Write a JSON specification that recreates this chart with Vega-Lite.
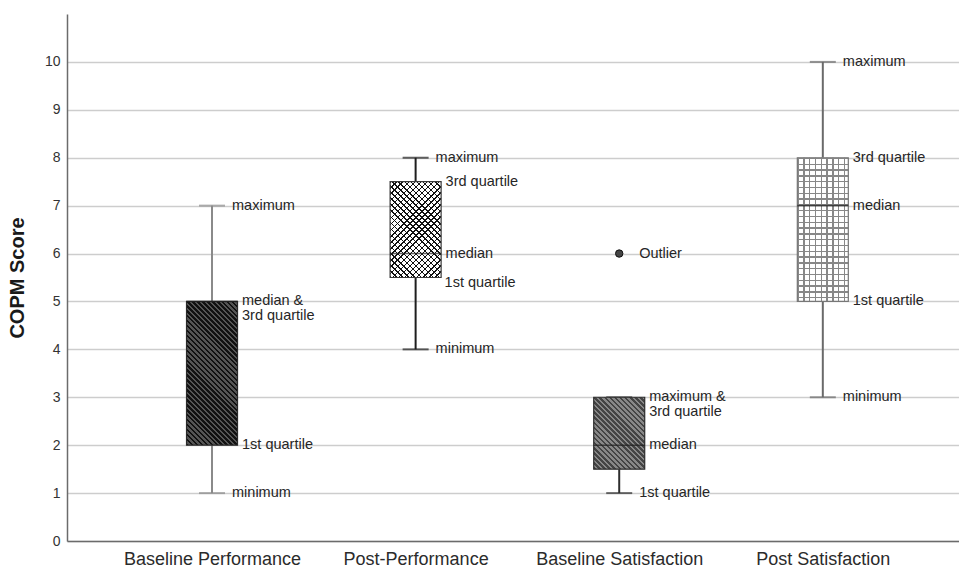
{
"$schema": "https://vega.github.io/schema/vega-lite/v6.json",
"width": 892,
"height": 527,
"autosize": {"type": "none"},
"padding": {"left": 67, "top": 14, "right": 0, "bottom": 26},
"background": "white",
"config": {"view": {"stroke": null}, "font": "Liberation Sans",
"axisY": {"titleFontSize": 20, "titleFontWeight": "bold", "titleColor": "#1a1a1a", "titleFont": "Liberation Sans", "titlePadding": 17, "ticks": false, "tickSize": 0, "labelPadding": 7, "labelFontSize": 14, "labelColor": "#333333", "grid": true, "gridColor": "#cdcdcd", "gridWidth": 1.6, "domainColor": "#6b6b6b", "domainWidth": 1.5}},
"datasets": {
"stats": [
{"cat": "Baseline Performance", "min": 1, "q1": 2, "median": 5, "q3": 5, "max": 7},
{"cat": "Post-Performance", "min": 4, "q1": 5.5, "median": 6, "q3": 7.5, "max": 8},
{"cat": "Baseline Satisfaction", "min": 1, "q1": 1.5, "median": 2, "q3": 3, "max": 3},
{"cat": "Post Satisfaction", "min": 3, "q1": 5, "median": 7, "q3": 8, "max": 10}
],
"outliers": [
{"cat": "Baseline Satisfaction", "value": 6}
],
"notes": [
{"cat": "Baseline Performance", "value": 7, "label": "maximum", "kind": "end"},
{"cat": "Baseline Performance", "value": 5, "label": "median &\n3rd quartile", "kind": "box"},
{"cat": "Baseline Performance", "value": 2, "label": "1st quartile", "kind": "box"},
{"cat": "Baseline Performance", "value": 1, "label": "minimum", "kind": "end"},
{"cat": "Post-Performance", "value": 8, "label": "maximum", "kind": "end"},
{"cat": "Post-Performance", "value": 7.5, "label": "3rd quartile", "kind": "box"},
{"cat": "Post-Performance", "value": 6, "label": "median", "kind": "box"},
{"cat": "Post-Performance", "value": 5.5, "label": "1st quartile", "kind": "below"},
{"cat": "Post-Performance", "value": 4, "label": "minimum", "kind": "end"},
{"cat": "Baseline Satisfaction", "value": 6, "label": "Outlier", "kind": "end"},
{"cat": "Baseline Satisfaction", "value": 3, "label": "maximum &\n3rd quartile", "kind": "box"},
{"cat": "Baseline Satisfaction", "value": 2, "label": "median", "kind": "box"},
{"cat": "Baseline Satisfaction", "value": 1, "label": "1st quartile", "kind": "end"},
{"cat": "Post Satisfaction", "value": 10, "label": "maximum", "kind": "end"},
{"cat": "Post Satisfaction", "value": 8, "label": "3rd quartile", "kind": "box"},
{"cat": "Post Satisfaction", "value": 7, "label": "median", "kind": "box"},
{"cat": "Post Satisfaction", "value": 5, "label": "1st quartile", "kind": "box"},
{"cat": "Post Satisfaction", "value": 3, "label": "minimum", "kind": "end"}
]
},
"data": {"name": "stats"},
"encoding": {
"x": {
"field": "cat", "type": "nominal", "sort": null,
"scale": {"type": "point", "domain": ["Baseline Performance", "Post-Performance", "Baseline Satisfaction", "Post Satisfaction"], "padding": 0.6906, "align": 0.5157},
"axis": {"title": null, "ticks": false, "tickSize": 0, "labelPadding": 9, "labelFontSize": 18, "labelFont": "Liberation Sans", "labelColor": "#2b2b2b", "labelAngle": 0, "domainColor": "#6b6b6b", "domainWidth": 1.5, "grid": false}
}
},
"layer": [
{
"mark": {"type": "rule", "strokeWidth": 2},
"encoding": {
"y": {"field": "min", "type": "quantitative", "title": "COPM Score", "scale": {"domain": [0, 11], "nice": false},
"axis": {"values": [0, 1, 2, 3, 4, 5, 6, 7, 8, 9, 10]}},
"y2": {"field": "q1"},
"color": {"field": "cat", "type": "nominal", "scale": {"domain": ["Baseline Performance", "Post-Performance", "Baseline Satisfaction", "Post Satisfaction"], "range": ["#8a8a8a", "#1e1e1e", "#2e2e2e", "#6a6a6a"]}, "legend": null}
}
},
{
"mark": {"type": "rule", "strokeWidth": 2},
"encoding": {
"y": {"field": "q3", "type": "quantitative", "title": "COPM Score"},
"y2": {"field": "max"},
"color": {"field": "cat", "type": "nominal", "legend": null}
}
},
{
"mark": {"type": "tick", "size": 26, "thickness": 2},
"encoding": {
"y": {"field": "min", "type": "quantitative", "title": "COPM Score"},
"color": {"field": "cat", "type": "nominal", "legend": null}
}
},
{
"mark": {"type": "tick", "size": 26, "thickness": 2},
"encoding": {
"y": {"field": "max", "type": "quantitative", "title": "COPM Score"},
"color": {"field": "cat", "type": "nominal", "legend": null}
}
},
{
"transform": [{"filter": "datum.cat === 'Baseline Performance'"}],
"mark": {"type": "bar", "size": 51, "stroke": "#2a2a2a", "strokeWidth": 1.2,
"fill": {"gradient": "linear", "x1": 0, "y1": 1, "x2": 0.4341, "y2": -0.2234, "stops": [
{"offset":0,"color":"#111"},{"offset":0.0125,"color":"#111"},{"offset":0.0125,"color":"#555"},{"offset":0.025,"color":"#555"},
{"offset":0.025,"color":"#111"},{"offset":0.0375,"color":"#111"},{"offset":0.0375,"color":"#555"},{"offset":0.05,"color":"#555"},
{"offset":0.05,"color":"#111"},{"offset":0.0625,"color":"#111"},{"offset":0.0625,"color":"#555"},{"offset":0.075,"color":"#555"},
{"offset":0.075,"color":"#111"},{"offset":0.0875,"color":"#111"},{"offset":0.0875,"color":"#555"},{"offset":0.1,"color":"#555"},
{"offset":0.1,"color":"#111"},{"offset":0.1125,"color":"#111"},{"offset":0.1125,"color":"#555"},{"offset":0.125,"color":"#555"},
{"offset":0.125,"color":"#111"},{"offset":0.1375,"color":"#111"},{"offset":0.1375,"color":"#555"},{"offset":0.15,"color":"#555"},
{"offset":0.15,"color":"#111"},{"offset":0.1625,"color":"#111"},{"offset":0.1625,"color":"#555"},{"offset":0.175,"color":"#555"},
{"offset":0.175,"color":"#111"},{"offset":0.1875,"color":"#111"},{"offset":0.1875,"color":"#555"},{"offset":0.2,"color":"#555"},
{"offset":0.2,"color":"#111"},{"offset":0.2125,"color":"#111"},{"offset":0.2125,"color":"#555"},{"offset":0.225,"color":"#555"},
{"offset":0.225,"color":"#111"},{"offset":0.2375,"color":"#111"},{"offset":0.2375,"color":"#555"},{"offset":0.25,"color":"#555"},
{"offset":0.25,"color":"#111"},{"offset":0.2625,"color":"#111"},{"offset":0.2625,"color":"#555"},{"offset":0.275,"color":"#555"},
{"offset":0.275,"color":"#111"},{"offset":0.2875,"color":"#111"},{"offset":0.2875,"color":"#555"},{"offset":0.3,"color":"#555"},
{"offset":0.3,"color":"#111"},{"offset":0.3125,"color":"#111"},{"offset":0.3125,"color":"#555"},{"offset":0.325,"color":"#555"},
{"offset":0.325,"color":"#111"},{"offset":0.3375,"color":"#111"},{"offset":0.3375,"color":"#555"},{"offset":0.35,"color":"#555"},
{"offset":0.35,"color":"#111"},{"offset":0.3625,"color":"#111"},{"offset":0.3625,"color":"#555"},{"offset":0.375,"color":"#555"},
{"offset":0.375,"color":"#111"},{"offset":0.3875,"color":"#111"},{"offset":0.3875,"color":"#555"},{"offset":0.4,"color":"#555"},
{"offset":0.4,"color":"#111"},{"offset":0.4125,"color":"#111"},{"offset":0.4125,"color":"#555"},{"offset":0.425,"color":"#555"},
{"offset":0.425,"color":"#111"},{"offset":0.4375,"color":"#111"},{"offset":0.4375,"color":"#555"},{"offset":0.45,"color":"#555"},
{"offset":0.45,"color":"#111"},{"offset":0.4625,"color":"#111"},{"offset":0.4625,"color":"#555"},{"offset":0.475,"color":"#555"},
{"offset":0.475,"color":"#111"},{"offset":0.4875,"color":"#111"},{"offset":0.4875,"color":"#555"},{"offset":0.5,"color":"#555"},
{"offset":0.5,"color":"#111"},{"offset":0.5125,"color":"#111"},{"offset":0.5125,"color":"#555"},{"offset":0.525,"color":"#555"},
{"offset":0.525,"color":"#111"},{"offset":0.5375,"color":"#111"},{"offset":0.5375,"color":"#555"},{"offset":0.55,"color":"#555"},
{"offset":0.55,"color":"#111"},{"offset":0.5625,"color":"#111"},{"offset":0.5625,"color":"#555"},{"offset":0.575,"color":"#555"},
{"offset":0.575,"color":"#111"},{"offset":0.5875,"color":"#111"},{"offset":0.5875,"color":"#555"},{"offset":0.6,"color":"#555"},
{"offset":0.6,"color":"#111"},{"offset":0.6125,"color":"#111"},{"offset":0.6125,"color":"#555"},{"offset":0.625,"color":"#555"},
{"offset":0.625,"color":"#111"},{"offset":0.6375,"color":"#111"},{"offset":0.6375,"color":"#555"},{"offset":0.65,"color":"#555"},
{"offset":0.65,"color":"#111"},{"offset":0.6625,"color":"#111"},{"offset":0.6625,"color":"#555"},{"offset":0.675,"color":"#555"},
{"offset":0.675,"color":"#111"},{"offset":0.6875,"color":"#111"},{"offset":0.6875,"color":"#555"},{"offset":0.7,"color":"#555"},
{"offset":0.7,"color":"#111"},{"offset":0.7125,"color":"#111"},{"offset":0.7125,"color":"#555"},{"offset":0.725,"color":"#555"},
{"offset":0.725,"color":"#111"},{"offset":0.7375,"color":"#111"},{"offset":0.7375,"color":"#555"},{"offset":0.75,"color":"#555"},
{"offset":0.75,"color":"#111"},{"offset":0.7625,"color":"#111"},{"offset":0.7625,"color":"#555"},{"offset":0.775,"color":"#555"},
{"offset":0.775,"color":"#111"},{"offset":0.7875,"color":"#111"},{"offset":0.7875,"color":"#555"},{"offset":0.8,"color":"#555"},
{"offset":0.8,"color":"#111"},{"offset":0.8125,"color":"#111"},{"offset":0.8125,"color":"#555"},{"offset":0.825,"color":"#555"},
{"offset":0.825,"color":"#111"},{"offset":0.8375,"color":"#111"},{"offset":0.8375,"color":"#555"},{"offset":0.85,"color":"#555"},
{"offset":0.85,"color":"#111"},{"offset":0.8625,"color":"#111"},{"offset":0.8625,"color":"#555"},{"offset":0.875,"color":"#555"},
{"offset":0.875,"color":"#111"},{"offset":0.8875,"color":"#111"},{"offset":0.8875,"color":"#555"},{"offset":0.9,"color":"#555"},
{"offset":0.9,"color":"#111"},{"offset":0.9125,"color":"#111"},{"offset":0.9125,"color":"#555"},{"offset":0.925,"color":"#555"},
{"offset":0.925,"color":"#111"},{"offset":0.9375,"color":"#111"},{"offset":0.9375,"color":"#555"},{"offset":0.95,"color":"#555"},
{"offset":0.95,"color":"#111"},{"offset":0.9625,"color":"#111"},{"offset":0.9625,"color":"#555"},{"offset":0.975,"color":"#555"},
{"offset":0.975,"color":"#111"},{"offset":0.9875,"color":"#111"},{"offset":0.9875,"color":"#555"},{"offset":1,"color":"#555"}
]}},
"encoding": {
"y": {"field": "q1", "type": "quantitative", "title": "COPM Score"},
"y2": {"field": "q3"}
}
},
{
"transform": [{"filter": "datum.cat === 'Baseline Satisfaction'"}],
"mark": {"type": "bar", "size": 51, "stroke": "#2e2e2e", "strokeWidth": 1.2,
"fill": {"gradient": "linear", "x1": 0, "y1": 1, "x2": 0.836, "y2": -0.1779, "stops": [
{"offset":0,"color":"#444"},{"offset":0.02,"color":"#444"},{"offset":0.02,"color":"#888"},{"offset":0.04,"color":"#888"},
{"offset":0.04,"color":"#444"},{"offset":0.06,"color":"#444"},{"offset":0.06,"color":"#888"},{"offset":0.08,"color":"#888"},
{"offset":0.08,"color":"#444"},{"offset":0.1,"color":"#444"},{"offset":0.1,"color":"#888"},{"offset":0.12,"color":"#888"},
{"offset":0.12,"color":"#444"},{"offset":0.14,"color":"#444"},{"offset":0.14,"color":"#888"},{"offset":0.16,"color":"#888"},
{"offset":0.16,"color":"#444"},{"offset":0.18,"color":"#444"},{"offset":0.18,"color":"#888"},{"offset":0.2,"color":"#888"},
{"offset":0.2,"color":"#444"},{"offset":0.22,"color":"#444"},{"offset":0.22,"color":"#888"},{"offset":0.24,"color":"#888"},
{"offset":0.24,"color":"#444"},{"offset":0.26,"color":"#444"},{"offset":0.26,"color":"#888"},{"offset":0.28,"color":"#888"},
{"offset":0.28,"color":"#444"},{"offset":0.3,"color":"#444"},{"offset":0.3,"color":"#888"},{"offset":0.32,"color":"#888"},
{"offset":0.32,"color":"#444"},{"offset":0.34,"color":"#444"},{"offset":0.34,"color":"#888"},{"offset":0.36,"color":"#888"},
{"offset":0.36,"color":"#444"},{"offset":0.38,"color":"#444"},{"offset":0.38,"color":"#888"},{"offset":0.4,"color":"#888"},
{"offset":0.4,"color":"#444"},{"offset":0.42,"color":"#444"},{"offset":0.42,"color":"#888"},{"offset":0.44,"color":"#888"},
{"offset":0.44,"color":"#444"},{"offset":0.46,"color":"#444"},{"offset":0.46,"color":"#888"},{"offset":0.48,"color":"#888"},
{"offset":0.48,"color":"#444"},{"offset":0.5,"color":"#444"},{"offset":0.5,"color":"#888"},{"offset":0.52,"color":"#888"},
{"offset":0.52,"color":"#444"},{"offset":0.54,"color":"#444"},{"offset":0.54,"color":"#888"},{"offset":0.56,"color":"#888"},
{"offset":0.56,"color":"#444"},{"offset":0.58,"color":"#444"},{"offset":0.58,"color":"#888"},{"offset":0.6,"color":"#888"},
{"offset":0.6,"color":"#444"},{"offset":0.62,"color":"#444"},{"offset":0.62,"color":"#888"},{"offset":0.64,"color":"#888"},
{"offset":0.64,"color":"#444"},{"offset":0.66,"color":"#444"},{"offset":0.66,"color":"#888"},{"offset":0.68,"color":"#888"},
{"offset":0.68,"color":"#444"},{"offset":0.7,"color":"#444"},{"offset":0.7,"color":"#888"},{"offset":0.72,"color":"#888"},
{"offset":0.72,"color":"#444"},{"offset":0.74,"color":"#444"},{"offset":0.74,"color":"#888"},{"offset":0.76,"color":"#888"},
{"offset":0.76,"color":"#444"},{"offset":0.78,"color":"#444"},{"offset":0.78,"color":"#888"},{"offset":0.8,"color":"#888"},
{"offset":0.8,"color":"#444"},{"offset":0.82,"color":"#444"},{"offset":0.82,"color":"#888"},{"offset":0.84,"color":"#888"},
{"offset":0.84,"color":"#444"},{"offset":0.86,"color":"#444"},{"offset":0.86,"color":"#888"},{"offset":0.88,"color":"#888"},
{"offset":0.88,"color":"#444"},{"offset":0.9,"color":"#444"},{"offset":0.9,"color":"#888"},{"offset":0.92,"color":"#888"},
{"offset":0.92,"color":"#444"},{"offset":0.94,"color":"#444"},{"offset":0.94,"color":"#888"},{"offset":0.96,"color":"#888"},
{"offset":0.96,"color":"#444"},{"offset":0.98,"color":"#444"},{"offset":0.98,"color":"#888"},{"offset":1,"color":"#888"}
]}},
"encoding": {
"y": {"field": "q1", "type": "quantitative", "title": "COPM Score"},
"y2": {"field": "q3"}
}
},
{
"transform": [{"filter": "datum.cat === 'Post-Performance'"}],
"mark": {"type": "bar", "size": 51, "strokeWidth": 0,
"fill": {"gradient": "linear", "x1": 0, "y1": 1, "x2": 0.6581, "y2": -0.2364, "stops": [
{"offset":0,"color":"#111"},{"offset":0.01,"color":"#111"},{"offset":0.01,"color":"#fff"},{"offset":0.04,"color":"#fff"},
{"offset":0.04,"color":"#111"},{"offset":0.05,"color":"#111"},{"offset":0.05,"color":"#fff"},{"offset":0.08,"color":"#fff"},
{"offset":0.08,"color":"#111"},{"offset":0.09,"color":"#111"},{"offset":0.09,"color":"#fff"},{"offset":0.12,"color":"#fff"},
{"offset":0.12,"color":"#111"},{"offset":0.13,"color":"#111"},{"offset":0.13,"color":"#fff"},{"offset":0.16,"color":"#fff"},
{"offset":0.16,"color":"#111"},{"offset":0.17,"color":"#111"},{"offset":0.17,"color":"#fff"},{"offset":0.2,"color":"#fff"},
{"offset":0.2,"color":"#111"},{"offset":0.21,"color":"#111"},{"offset":0.21,"color":"#fff"},{"offset":0.24,"color":"#fff"},
{"offset":0.24,"color":"#111"},{"offset":0.25,"color":"#111"},{"offset":0.25,"color":"#fff"},{"offset":0.28,"color":"#fff"},
{"offset":0.28,"color":"#111"},{"offset":0.29,"color":"#111"},{"offset":0.29,"color":"#fff"},{"offset":0.32,"color":"#fff"},
{"offset":0.32,"color":"#111"},{"offset":0.33,"color":"#111"},{"offset":0.33,"color":"#fff"},{"offset":0.36,"color":"#fff"},
{"offset":0.36,"color":"#111"},{"offset":0.37,"color":"#111"},{"offset":0.37,"color":"#fff"},{"offset":0.4,"color":"#fff"},
{"offset":0.4,"color":"#111"},{"offset":0.41,"color":"#111"},{"offset":0.41,"color":"#fff"},{"offset":0.44,"color":"#fff"},
{"offset":0.44,"color":"#111"},{"offset":0.45,"color":"#111"},{"offset":0.45,"color":"#fff"},{"offset":0.48,"color":"#fff"},
{"offset":0.48,"color":"#111"},{"offset":0.49,"color":"#111"},{"offset":0.49,"color":"#fff"},{"offset":0.52,"color":"#fff"},
{"offset":0.52,"color":"#111"},{"offset":0.53,"color":"#111"},{"offset":0.53,"color":"#fff"},{"offset":0.56,"color":"#fff"},
{"offset":0.56,"color":"#111"},{"offset":0.57,"color":"#111"},{"offset":0.57,"color":"#fff"},{"offset":0.6,"color":"#fff"},
{"offset":0.6,"color":"#111"},{"offset":0.61,"color":"#111"},{"offset":0.61,"color":"#fff"},{"offset":0.64,"color":"#fff"},
{"offset":0.64,"color":"#111"},{"offset":0.65,"color":"#111"},{"offset":0.65,"color":"#fff"},{"offset":0.68,"color":"#fff"},
{"offset":0.68,"color":"#111"},{"offset":0.69,"color":"#111"},{"offset":0.69,"color":"#fff"},{"offset":0.72,"color":"#fff"},
{"offset":0.72,"color":"#111"},{"offset":0.73,"color":"#111"},{"offset":0.73,"color":"#fff"},{"offset":0.76,"color":"#fff"},
{"offset":0.76,"color":"#111"},{"offset":0.77,"color":"#111"},{"offset":0.77,"color":"#fff"},{"offset":0.8,"color":"#fff"},
{"offset":0.8,"color":"#111"},{"offset":0.81,"color":"#111"},{"offset":0.81,"color":"#fff"},{"offset":0.84,"color":"#fff"},
{"offset":0.84,"color":"#111"},{"offset":0.85,"color":"#111"},{"offset":0.85,"color":"#fff"},{"offset":0.88,"color":"#fff"},
{"offset":0.88,"color":"#111"},{"offset":0.89,"color":"#111"},{"offset":0.89,"color":"#fff"},{"offset":0.92,"color":"#fff"},
{"offset":0.92,"color":"#111"},{"offset":0.93,"color":"#111"},{"offset":0.93,"color":"#fff"},{"offset":0.96,"color":"#fff"},
{"offset":0.96,"color":"#111"},{"offset":0.97,"color":"#111"},{"offset":0.97,"color":"#fff"},{"offset":1,"color":"#fff"}
]}},
"encoding": {
"y": {"field": "q1", "type": "quantitative", "title": "COPM Score"},
"y2": {"field": "q3"}
}
},
{
"transform": [{"filter": "datum.cat === 'Post-Performance'"}],
"mark": {"type": "bar", "size": 51, "stroke": "#3a3a3a", "strokeWidth": 1.2,
"fill": {"gradient": "linear", "x1": 0, "y1": 0, "x2": 0.6581, "y2": 1.2364, "stops": [
{"offset":0,"color":"#111"},{"offset":0.01,"color":"#111"},{"offset":0.01,"color":"rgba(0,0,0,0)"},{"offset":0.04,"color":"rgba(0,0,0,0)"},
{"offset":0.04,"color":"#111"},{"offset":0.05,"color":"#111"},{"offset":0.05,"color":"rgba(0,0,0,0)"},{"offset":0.08,"color":"rgba(0,0,0,0)"},
{"offset":0.08,"color":"#111"},{"offset":0.09,"color":"#111"},{"offset":0.09,"color":"rgba(0,0,0,0)"},{"offset":0.12,"color":"rgba(0,0,0,0)"},
{"offset":0.12,"color":"#111"},{"offset":0.13,"color":"#111"},{"offset":0.13,"color":"rgba(0,0,0,0)"},{"offset":0.16,"color":"rgba(0,0,0,0)"},
{"offset":0.16,"color":"#111"},{"offset":0.17,"color":"#111"},{"offset":0.17,"color":"rgba(0,0,0,0)"},{"offset":0.2,"color":"rgba(0,0,0,0)"},
{"offset":0.2,"color":"#111"},{"offset":0.21,"color":"#111"},{"offset":0.21,"color":"rgba(0,0,0,0)"},{"offset":0.24,"color":"rgba(0,0,0,0)"},
{"offset":0.24,"color":"#111"},{"offset":0.25,"color":"#111"},{"offset":0.25,"color":"rgba(0,0,0,0)"},{"offset":0.28,"color":"rgba(0,0,0,0)"},
{"offset":0.28,"color":"#111"},{"offset":0.29,"color":"#111"},{"offset":0.29,"color":"rgba(0,0,0,0)"},{"offset":0.32,"color":"rgba(0,0,0,0)"},
{"offset":0.32,"color":"#111"},{"offset":0.33,"color":"#111"},{"offset":0.33,"color":"rgba(0,0,0,0)"},{"offset":0.36,"color":"rgba(0,0,0,0)"},
{"offset":0.36,"color":"#111"},{"offset":0.37,"color":"#111"},{"offset":0.37,"color":"rgba(0,0,0,0)"},{"offset":0.4,"color":"rgba(0,0,0,0)"},
{"offset":0.4,"color":"#111"},{"offset":0.41,"color":"#111"},{"offset":0.41,"color":"rgba(0,0,0,0)"},{"offset":0.44,"color":"rgba(0,0,0,0)"},
{"offset":0.44,"color":"#111"},{"offset":0.45,"color":"#111"},{"offset":0.45,"color":"rgba(0,0,0,0)"},{"offset":0.48,"color":"rgba(0,0,0,0)"},
{"offset":0.48,"color":"#111"},{"offset":0.49,"color":"#111"},{"offset":0.49,"color":"rgba(0,0,0,0)"},{"offset":0.52,"color":"rgba(0,0,0,0)"},
{"offset":0.52,"color":"#111"},{"offset":0.53,"color":"#111"},{"offset":0.53,"color":"rgba(0,0,0,0)"},{"offset":0.56,"color":"rgba(0,0,0,0)"},
{"offset":0.56,"color":"#111"},{"offset":0.57,"color":"#111"},{"offset":0.57,"color":"rgba(0,0,0,0)"},{"offset":0.6,"color":"rgba(0,0,0,0)"},
{"offset":0.6,"color":"#111"},{"offset":0.61,"color":"#111"},{"offset":0.61,"color":"rgba(0,0,0,0)"},{"offset":0.64,"color":"rgba(0,0,0,0)"},
{"offset":0.64,"color":"#111"},{"offset":0.65,"color":"#111"},{"offset":0.65,"color":"rgba(0,0,0,0)"},{"offset":0.68,"color":"rgba(0,0,0,0)"},
{"offset":0.68,"color":"#111"},{"offset":0.69,"color":"#111"},{"offset":0.69,"color":"rgba(0,0,0,0)"},{"offset":0.72,"color":"rgba(0,0,0,0)"},
{"offset":0.72,"color":"#111"},{"offset":0.73,"color":"#111"},{"offset":0.73,"color":"rgba(0,0,0,0)"},{"offset":0.76,"color":"rgba(0,0,0,0)"},
{"offset":0.76,"color":"#111"},{"offset":0.77,"color":"#111"},{"offset":0.77,"color":"rgba(0,0,0,0)"},{"offset":0.8,"color":"rgba(0,0,0,0)"},
{"offset":0.8,"color":"#111"},{"offset":0.81,"color":"#111"},{"offset":0.81,"color":"rgba(0,0,0,0)"},{"offset":0.84,"color":"rgba(0,0,0,0)"},
{"offset":0.84,"color":"#111"},{"offset":0.85,"color":"#111"},{"offset":0.85,"color":"rgba(0,0,0,0)"},{"offset":0.88,"color":"rgba(0,0,0,0)"},
{"offset":0.88,"color":"#111"},{"offset":0.89,"color":"#111"},{"offset":0.89,"color":"rgba(0,0,0,0)"},{"offset":0.92,"color":"rgba(0,0,0,0)"},
{"offset":0.92,"color":"#111"},{"offset":0.93,"color":"#111"},{"offset":0.93,"color":"rgba(0,0,0,0)"},{"offset":0.96,"color":"rgba(0,0,0,0)"},
{"offset":0.96,"color":"#111"},{"offset":0.97,"color":"#111"},{"offset":0.97,"color":"rgba(0,0,0,0)"},{"offset":1,"color":"rgba(0,0,0,0)"}
]}},
"encoding": {
"y": {"field": "q1", "type": "quantitative", "title": "COPM Score"},
"y2": {"field": "q3"}
}
},
{
"transform": [{"filter": "datum.cat === 'Post Satisfaction'"}],
"mark": {"type": "bar", "size": 51, "strokeWidth": 0,
"fill": {"gradient": "linear", "x1": 0, "y1": 0, "x2": 0, "y2": 1.0088, "stops": [
{"offset":0,"color":"#888"},{"offset":0.01,"color":"#888"},{"offset":0.01,"color":"#fff"},{"offset":0.04,"color":"#fff"},
{"offset":0.04,"color":"#888"},{"offset":0.05,"color":"#888"},{"offset":0.05,"color":"#fff"},{"offset":0.08,"color":"#fff"},
{"offset":0.08,"color":"#888"},{"offset":0.09,"color":"#888"},{"offset":0.09,"color":"#fff"},{"offset":0.12,"color":"#fff"},
{"offset":0.12,"color":"#888"},{"offset":0.13,"color":"#888"},{"offset":0.13,"color":"#fff"},{"offset":0.16,"color":"#fff"},
{"offset":0.16,"color":"#888"},{"offset":0.17,"color":"#888"},{"offset":0.17,"color":"#fff"},{"offset":0.2,"color":"#fff"},
{"offset":0.2,"color":"#888"},{"offset":0.21,"color":"#888"},{"offset":0.21,"color":"#fff"},{"offset":0.24,"color":"#fff"},
{"offset":0.24,"color":"#888"},{"offset":0.25,"color":"#888"},{"offset":0.25,"color":"#fff"},{"offset":0.28,"color":"#fff"},
{"offset":0.28,"color":"#888"},{"offset":0.29,"color":"#888"},{"offset":0.29,"color":"#fff"},{"offset":0.32,"color":"#fff"},
{"offset":0.32,"color":"#888"},{"offset":0.33,"color":"#888"},{"offset":0.33,"color":"#fff"},{"offset":0.36,"color":"#fff"},
{"offset":0.36,"color":"#888"},{"offset":0.37,"color":"#888"},{"offset":0.37,"color":"#fff"},{"offset":0.4,"color":"#fff"},
{"offset":0.4,"color":"#888"},{"offset":0.41,"color":"#888"},{"offset":0.41,"color":"#fff"},{"offset":0.44,"color":"#fff"},
{"offset":0.44,"color":"#888"},{"offset":0.45,"color":"#888"},{"offset":0.45,"color":"#fff"},{"offset":0.48,"color":"#fff"},
{"offset":0.48,"color":"#888"},{"offset":0.49,"color":"#888"},{"offset":0.49,"color":"#fff"},{"offset":0.52,"color":"#fff"},
{"offset":0.52,"color":"#888"},{"offset":0.53,"color":"#888"},{"offset":0.53,"color":"#fff"},{"offset":0.56,"color":"#fff"},
{"offset":0.56,"color":"#888"},{"offset":0.57,"color":"#888"},{"offset":0.57,"color":"#fff"},{"offset":0.6,"color":"#fff"},
{"offset":0.6,"color":"#888"},{"offset":0.61,"color":"#888"},{"offset":0.61,"color":"#fff"},{"offset":0.64,"color":"#fff"},
{"offset":0.64,"color":"#888"},{"offset":0.65,"color":"#888"},{"offset":0.65,"color":"#fff"},{"offset":0.68,"color":"#fff"},
{"offset":0.68,"color":"#888"},{"offset":0.69,"color":"#888"},{"offset":0.69,"color":"#fff"},{"offset":0.72,"color":"#fff"},
{"offset":0.72,"color":"#888"},{"offset":0.73,"color":"#888"},{"offset":0.73,"color":"#fff"},{"offset":0.76,"color":"#fff"},
{"offset":0.76,"color":"#888"},{"offset":0.77,"color":"#888"},{"offset":0.77,"color":"#fff"},{"offset":0.8,"color":"#fff"},
{"offset":0.8,"color":"#888"},{"offset":0.81,"color":"#888"},{"offset":0.81,"color":"#fff"},{"offset":0.84,"color":"#fff"},
{"offset":0.84,"color":"#888"},{"offset":0.85,"color":"#888"},{"offset":0.85,"color":"#fff"},{"offset":0.88,"color":"#fff"},
{"offset":0.88,"color":"#888"},{"offset":0.89,"color":"#888"},{"offset":0.89,"color":"#fff"},{"offset":0.92,"color":"#fff"},
{"offset":0.92,"color":"#888"},{"offset":0.93,"color":"#888"},{"offset":0.93,"color":"#fff"},{"offset":0.96,"color":"#fff"},
{"offset":0.96,"color":"#888"},{"offset":0.97,"color":"#888"},{"offset":0.97,"color":"#fff"},{"offset":1,"color":"#fff"}
]}},
"encoding": {
"y": {"field": "q1", "type": "quantitative", "title": "COPM Score"},
"y2": {"field": "q3"}
}
},
{
"transform": [{"filter": "datum.cat === 'Post Satisfaction'"}],
"mark": {"type": "bar", "size": 51, "stroke": "#777", "strokeWidth": 1.2,
"fill": {"gradient": "linear", "x1": 0, "y1": 0, "x2": 2.843, "y2": 0, "stops": [
{"offset":0,"color":"#888"},{"offset":0.01,"color":"#888"},{"offset":0.01,"color":"rgba(0,0,0,0)"},{"offset":0.04,"color":"rgba(0,0,0,0)"},
{"offset":0.04,"color":"#888"},{"offset":0.05,"color":"#888"},{"offset":0.05,"color":"rgba(0,0,0,0)"},{"offset":0.08,"color":"rgba(0,0,0,0)"},
{"offset":0.08,"color":"#888"},{"offset":0.09,"color":"#888"},{"offset":0.09,"color":"rgba(0,0,0,0)"},{"offset":0.12,"color":"rgba(0,0,0,0)"},
{"offset":0.12,"color":"#888"},{"offset":0.13,"color":"#888"},{"offset":0.13,"color":"rgba(0,0,0,0)"},{"offset":0.16,"color":"rgba(0,0,0,0)"},
{"offset":0.16,"color":"#888"},{"offset":0.17,"color":"#888"},{"offset":0.17,"color":"rgba(0,0,0,0)"},{"offset":0.2,"color":"rgba(0,0,0,0)"},
{"offset":0.2,"color":"#888"},{"offset":0.21,"color":"#888"},{"offset":0.21,"color":"rgba(0,0,0,0)"},{"offset":0.24,"color":"rgba(0,0,0,0)"},
{"offset":0.24,"color":"#888"},{"offset":0.25,"color":"#888"},{"offset":0.25,"color":"rgba(0,0,0,0)"},{"offset":0.28,"color":"rgba(0,0,0,0)"},
{"offset":0.28,"color":"#888"},{"offset":0.29,"color":"#888"},{"offset":0.29,"color":"rgba(0,0,0,0)"},{"offset":0.32,"color":"rgba(0,0,0,0)"},
{"offset":0.32,"color":"#888"},{"offset":0.33,"color":"#888"},{"offset":0.33,"color":"rgba(0,0,0,0)"},{"offset":0.36,"color":"rgba(0,0,0,0)"},
{"offset":0.36,"color":"#888"},{"offset":0.37,"color":"#888"},{"offset":0.37,"color":"rgba(0,0,0,0)"},{"offset":0.4,"color":"rgba(0,0,0,0)"},
{"offset":0.4,"color":"#888"},{"offset":0.41,"color":"#888"},{"offset":0.41,"color":"rgba(0,0,0,0)"},{"offset":1,"color":"rgba(0,0,0,0)"}
]}},
"encoding": {
"y": {"field": "q1", "type": "quantitative", "title": "COPM Score"},
"y2": {"field": "q3"}
}
},
{
"mark": {"type": "tick", "size": 51, "thickness": 1.6, "color": "#1c1c1c"},
"encoding": {
"y": {"field": "median", "type": "quantitative", "title": "COPM Score"}
}
},
{
"data": {"name": "outliers"},
"mark": {"type": "point", "shape": "circle", "filled": true, "size": 55, "fill": "#444", "stroke": "#111", "strokeWidth": 1, "opacity": 1},
"encoding": {
"y": {"field": "value", "type": "quantitative", "title": "COPM Score"}
}
},
{
"data": {"name": "notes"},
"transform": [{"filter": "datum.kind === 'end'"}],
"mark": {"type": "text", "align": "left", "baseline": "middle", "dx": 20, "fontSize": 14.5, "font": "Liberation Sans", "color": "#262626", "lineBreak": "\n", "lineHeight": 15},
"encoding": {
"y": {"field": "value", "type": "quantitative", "title": "COPM Score"},
"text": {"field": "label"}
}
},
{
"data": {"name": "notes"},
"transform": [{"filter": "datum.kind === 'box'"}],
"mark": {"type": "text", "align": "left", "baseline": "middle", "dx": 30, "fontSize": 14.5, "font": "Liberation Sans", "color": "#262626", "lineBreak": "\n", "lineHeight": 15},
"encoding": {
"y": {"field": "value", "type": "quantitative", "title": "COPM Score"},
"text": {"field": "label"}
}
},
{
"data": {"name": "notes"},
"transform": [{"filter": "datum.kind === 'below'"}],
"mark": {"type": "text", "align": "left", "baseline": "middle", "dx": 29, "dy": 5, "fontSize": 14.5, "font": "Liberation Sans", "color": "#262626"},
"encoding": {
"y": {"field": "value", "type": "quantitative", "title": "COPM Score"},
"text": {"field": "label"}
}
}
]
}
